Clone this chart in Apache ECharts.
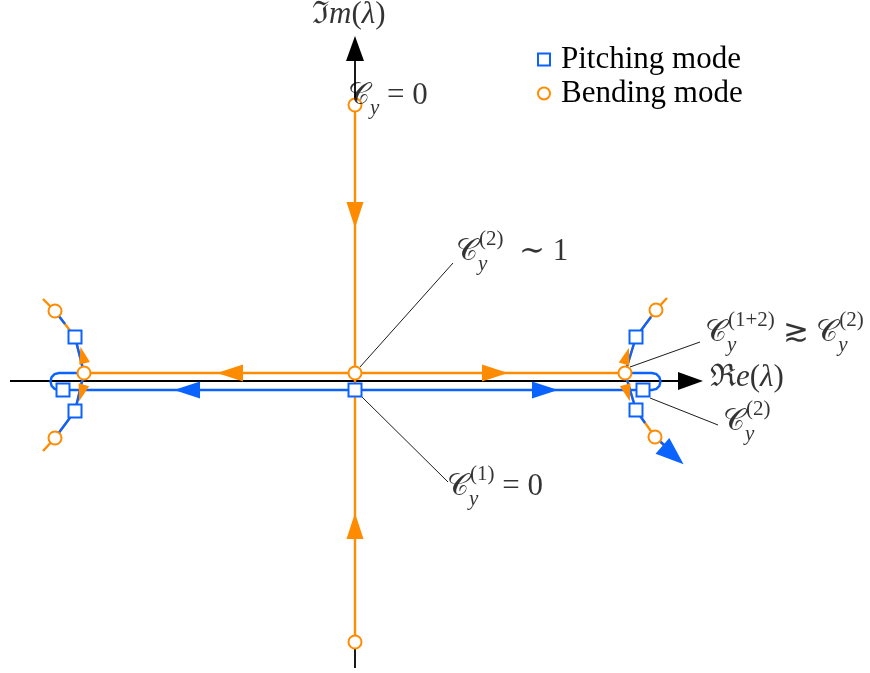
<!DOCTYPE html>
<html>
<head>
<meta charset="utf-8">
<script src="https://cdn.jsdelivr.net/npm/echarts@6/dist/echarts.min.js"></script>
<style>
  html, body { margin: 0; padding: 0; background: #fff; }
  #stage { width: 870px; height: 673px; }
</style>
</head>
<body>
<div id="stage"></div>
<script>
'use strict';

const ORANGE = '#FF8C00';
const BLUE = '#0A62FF';

// lambda plane, 1 unit = 10 px, origin where the two axes cross
const axisLines = [
  [[-34.5, 0], [33.2, 0]],
  [[0, -28.7], [0, 33.0]]
];
const axisArrows = [[33.55, 0, -90], [0, 33.25, 0]];

// bending mode branches (orange)
const orangePaths = [
  [[0, 27.6], [0, -26.1]],
  [[-27.1, 0.8], [27.0, 0.8]],
  [[27.0, 0.8], [28.1, 4.4], [30.1, 7.1], [31.2, 8.3]],
  [[27.0, 0.8], [28.1, -2.9], [30.0, -5.6], [31.4, -6.9]],
  [[-27.1, 0.8], [-28.0, 4.4], [-30.0, 7.0], [-31.2, 8.2]],
  [[-27.1, 0.8], [-28.0, -3.0], [-30.0, -5.7], [-31.2, -7.0]]
];
// pitching mode branches (blue) with the two U-turns on the real axis
const bluePaths = [
  [[27.0, 0.8], [29.7, 0.8], [30.14, 0.69], [30.44, 0.38], [30.55, -0.05], [30.44, -0.48],
   [30.14, -0.79], [29.7, -0.9], [-29.6, -0.9], [-30.04, -0.79], [-30.34, -0.48],
   [-30.45, -0.05], [-30.34, 0.38], [-30.04, 0.69], [-29.6, 0.8], [-27.1, 0.8]],
  [[27.0, 0.8], [28.1, 4.4], [29.6, 6.4]],
  [[27.0, 0.8], [28.1, -2.9], [29.0, -4.2]],
  [[30.0, -5.6], [31.5, -6.9]],
  [[-27.1, 0.8], [-28.0, 4.4]],
  [[-29.0, 5.7], [-30.0, 7.0]],
  [[-27.1, 0.8], [-28.0, -3.0], [-30.0, -5.7]]
];

const bendingPoles = [[0, 0.8], [0, 27.6], [0, -26.1], [27.0, 0.8], [-27.1, 0.8],
  [30.1, 7.1], [30.0, -5.6], [-30.0, 7.0], [-30.0, -5.7]];
const pitchingPoles = [[0, -0.9], [28.8, -0.9], [-29.2, -0.9], [28.1, 4.4], [28.1, -2.9],
  [-28.0, 4.4], [-28.0, -3.0]];

// direction arrows: x, y, rotation (deg)
const orangeArrows = [[0, 16.6, 180], [0, -14.5, 0], [14.0, 0.8, -90], [-12.5, 0.8, 90]];
const orangeSmallArrows = [[27.15, 2.5, -17], [27.25, -1.2, 196], [-27.25, 2.6, 14], [-27.35, -1.2, 164]];
const blueArrows = [[19.0, -0.9, -90], [-16.8, -0.9, 90]];
const blueBigArrows = [[31.8, -7.4, -131]];

const leaderLines = [
  [[0.5, 1.4], [9.8, 11.8]],
  [[0.5, -1.4], [9.3, -10.1]],
  [[27.5, 1.4], [34.5, 3.9]],
  [[29.5, -1.7], [36.3, -4.4]]
];

const notes = [
  [-4.3, 36.6, '{r|ℑ}{it|m}{r|(}{it|λ}{r|)}'],
  [-0.7, 28.5, '{c|𝒞}{sub|y}{r| = 0}'],
  [10.1, 12.9, '{c|𝒞}{subw|y}{sup|(2)}{r|  ∼ 1}'],
  [9.2, -10.6, '{c|𝒞}{subw|y}{sup|(1)}{r| = 0}'],
  [35.0, 4.8, '{c|𝒞}{subw|y}{sup|(1+2)}{r| ≳ }{c|𝒞}{subw|y}{sup|(2)}'],
  [35.5, 0.3, '{r|ℜ}{it|e}{r|(}{it|λ}{r|)}'],
  [36.8, -4.1, '{c|𝒞}{subw|y}{sup|(2)}']
];

const SERIF = '"Liberation Serif", "DejaVu Serif", serif';
const rich = {
  r: { fontFamily: SERIF, fontSize: 31, lineHeight: 46, color: '#000' },
  it: { fontFamily: SERIF, fontSize: 31, lineHeight: 46, fontStyle: 'italic', color: '#000' },
  c: { fontFamily: SERIF, fontSize: 30, lineHeight: 46, color: '#000' },
  sub: { fontFamily: SERIF, fontSize: 21, lineHeight: 26, fontStyle: 'italic', verticalAlign: 'bottom', color: '#000' },
  subw: { fontFamily: SERIF, fontSize: 21, lineHeight: 26, fontStyle: 'italic', verticalAlign: 'bottom', width: 1, color: '#000' },
  sup: { fontFamily: SERIF, fontSize: 21, lineHeight: 26, verticalAlign: 'top', color: '#000' }
};

function arrowSeries(list, color, size) {
  return {
    type: 'scatter',
    symbol: 'triangle',
    symbolSize: size,
    silent: true,
    z: 4,
    itemStyle: { color: color, opacity: 1 },
    data: list.map(a => ({ value: [a[0], a[1]], symbolRotate: a[2] }))
  };
}

function pathSeries(paths, color, width, z) {
  return {
    type: 'lines',
    coordinateSystem: 'cartesian2d',
    polyline: true,
    silent: true,
    z: z,
    lineStyle: { color: color, width: width, opacity: 1 },
    data: paths.map(p => ({ coords: p }))
  };
}

const myChart = echarts.init(document.getElementById('stage'));

const option = {
  animation: false,
  grid: { left: 0, right: 0, top: 0, bottom: 0 },
  xAxis: { type: 'value', min: -35.5, max: 51.5, show: false },
  yAxis: { type: 'value', min: -29.2, max: 38.1, show: false },
  legend: {
    orient: 'vertical',
    left: 532,
    top: 39,
    itemGap: 3,
    itemWidth: 12,
    itemHeight: 12,
    textStyle: { fontFamily: SERIF, fontSize: 31, lineHeight: 30, color: '#000', padding: [0, 0, 0, 6] },
    data: [
      { name: 'Pitching mode', icon: 'rect', itemStyle: { color: '#fff', borderColor: BLUE, borderWidth: 2 } },
      { name: 'Bending mode', icon: 'circle', itemStyle: { color: '#fff', borderColor: ORANGE, borderWidth: 2 } }
    ]
  },
  series: [
    pathSeries(axisLines, '#000', 1.8, 1),
    pathSeries(leaderLines, '#000', 0.9, 1),
    pathSeries(orangePaths, ORANGE, 2.4, 2),
    pathSeries(bluePaths, BLUE, 2.4, 3),
    arrowSeries(axisArrows, '#000', [18, 25]),
    arrowSeries(orangeArrows, ORANGE, [17, 26]),
    arrowSeries(orangeSmallArrows, ORANGE, [11, 17]),
    arrowSeries(blueArrows, BLUE, [17, 26]),
    arrowSeries(blueBigArrows, BLUE, [21, 28]),
    {
      name: 'Bending mode',
      type: 'scatter',
      symbol: 'circle',
      symbolSize: 13,
      silent: true,
      z: 5,
      itemStyle: { color: '#fff', borderColor: ORANGE, borderWidth: 2, opacity: 1 },
      data: bendingPoles
    },
    {
      name: 'Pitching mode',
      type: 'scatter',
      symbol: 'rect',
      symbolSize: 13,
      silent: true,
      z: 5,
      itemStyle: { color: '#fff', borderColor: BLUE, borderWidth: 2, opacity: 1 },
      data: pitchingPoles
    },
    {
      type: 'scatter',
      symbolSize: 0,
      silent: true,
      z: 6,
      label: { show: true, position: 'right', distance: 0, color: '#000', rich: rich },
      data: notes.map(n => ({ value: [n[0], n[1]], label: { formatter: n[2] } }))
    }
  ]
};

myChart.setOption(option);
</script>
</body>
</html>
